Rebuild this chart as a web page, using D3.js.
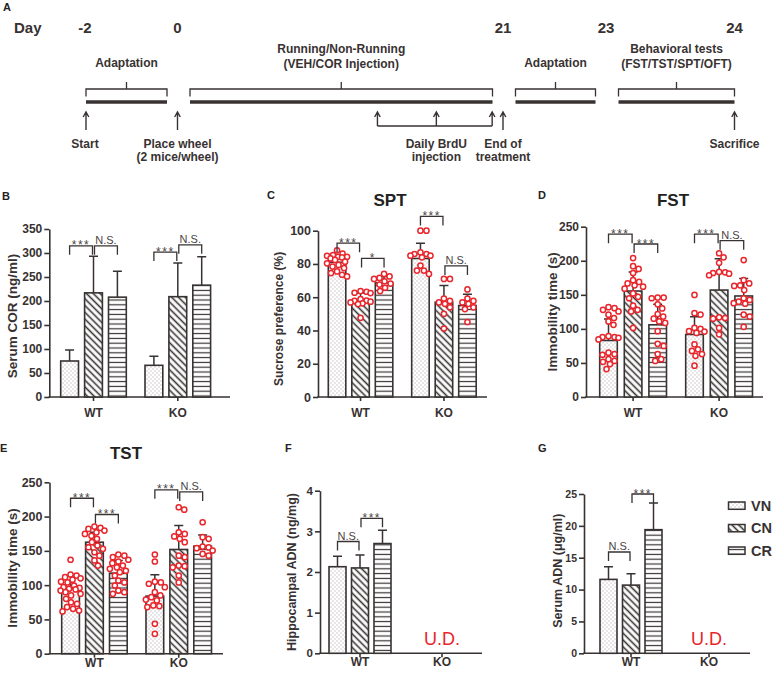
<!DOCTYPE html>
<html><head><meta charset="utf-8">
<script src="https://cdn.jsdelivr.net/npm/d3@7"></script>
<style>body{margin:0;background:#fff}svg{display:block}</style>
</head><body><svg id="chart" width="777" height="675"></svg>
<script>
// ---------------- DATA ----------------
const groups = ["WT", "KO"];
const seriesNames = ["VN", "CN", "CR"];

// Panel A timeline
const dayTicks = [-2, 0, 21, 23, 24];
const phaseStart = [-2, 0, 21, 23];
const phaseEnd = [0, 21, 23, 24];
const phaseLabels = [["Adaptation"], ["Running/Non-Running", "(VEH/COR Injection)"], ["Adaptation"], ["Behavioral tests", "(FST/TST/SPT/OFT)"]];
const eventDays = [-2, 0, 21, 24];
const eventLabels = [["Start"], ["Place wheel", "(2 mice/wheel)"], ["End of", "treatment"], ["Sacrifice"]];
const brduDays = [12.9, 16.7, 20.3];
const brduLabel = ["Daily BrdU", "injection"];

// Panel B: serum COR (ng/ml)
const corMean = [[75, 217, 208], [66, 209, 233]];
const corSD = [[23, 76, 54], [19, 70, 59]];
const corSig = [["WT","VN","CN",315,"***"],["WT","CN","CR",315,"N.S."],["KO","VN","CN",302,"***"],["KO","CN","CR",317,"N.S."]];

// Panel C: SPT sucrose preference (%)
const sptMean = [[81, 58, 68.6], [83.3, 57, 55]];
const sptSD = [[4.5, 4.6, 3.9], [9.2, 10, 6.8]];
const sptDotsWT = [
  [88.2, 86.3, 85.3, 84.9, 84.3, 84.3, 83.9, 83.3, 82.4, 81.4, 80.4, 79.4, 78.4, 77.5, 75.5, 74.5, 73.5, 72.5],
  [63.7, 63.3, 62.7, 62.5, 58.8, 58, 57.8, 57.3, 56.9, 56.3, 55.9, 47.6],
  [74, 72.5, 71.6, 71, 69.6, 68.2, 67.6, 65.7, 63.7]];
const sptDotsKO = [
  [100, 100, 87, 86, 86, 85, 85, 84, 79, 76, 74, 76],
  [71, 71, 59.2, 57.8, 56.9, 56, 53.9, 50, 41.2],
  [64.7, 59.2, 57.8, 56.9, 56, 53.9, 52.9, 45.1]];
const sptSig = [["WT","VN","CN",92.5,"***"],["WT","CN","CR",83.3,"*"],["KO","VN","CN",108.6,"***"],["KO","CN","CR",78.8,"N.S."]];

// Panel D: FST immobility time (s)
const fstMean = [[83, 155.6, 106], [91.8, 157, 148.3]];
const fstSD = [[31.5, 28, 30], [26, 46, 25.7]];
const fstDotsWT = [
  [131.9, 130.4, 128, 125.6, 120.8, 116, 111, 106, 89.4, 88, 88, 87, 84.5, 65, 63, 62, 55.6, 53, 51.7, 48.3, 41],
  [204, 192, 188, 182, 171.5, 169, 166.7, 164, 162, 159, 152, 147, 145, 134, 128, 125.6, 101.4],
  [146, 146, 145, 136, 130, 121.7, 118, 115, 111, 108.7, 96.6, 78, 75, 63, 55.6, 53]];
const fstDotsKO = [
  [149.8, 123, 121, 101.4, 100, 96.6, 96, 94, 77.3, 70, 67.6, 63, 60.4, 46],
  [211, 205, 197, 183.6, 183, 182, 181, 178.7, 117, 116, 115, 101.4, 92],
  [201, 171.5, 166.7, 164, 163, 157, 145, 142.5, 140, 137.7, 137, 120.8, 118, 103]];
const fstSig = [["WT","VN","CN",239,"***"],["WT","CN","CR",224.6,"***"],["KO","VN","CN",239,"***"],["KO","CN","CR",229.5,"N.S."]];

// Panel E: TST immobility time (s)
const tstMean = [[94.7, 162.6, 117.5], [84, 152, 156.8]];
const tstSD = [[10.5, 14.5, 18.5], [31, 35, 16.5]];
const tstDotsWT = [
  [137, 115.5, 114, 111.6, 110, 108, 105, 104, 99.5, 97, 96, 94.7, 93.7, 92, 89.8, 87.4, 85, 80, 75, 72.8, 68, 65.5, 63, 61.7],
  [185.4, 183.5, 182, 179.6, 177, 174.7, 172, 167.5, 162.6, 157.8, 155.3, 153, 148, 143, 136, 128.6],
  [144.7, 143, 140.8, 137, 134.5, 132, 128.6, 126, 123.8, 121, 118.9, 114, 106.8, 104, 99.5, 92, 89.8, 87.4]];
const tstDotsKO = [
  [144.7, 134.5, 105, 104, 102, 97, 89.8, 85, 82.5, 79, 77.7, 70.4, 69.4, 68, 43.7, 29],
  [213.6, 210, 177, 174.7, 171, 167.5, 162.6, 143, 140.8, 128.6, 127.7, 126, 114, 104],
  [191.7, 170, 167.5, 156.3, 155, 153.9, 150.5, 145.6, 143]];
const tstSig = [["WT","VN","CN",226.7,"***"],["WT","CN","CR",203,"***"],["KO","VN","CN",239,"***"],["KO","CN","CR",236,"N.S."]];

// Panel F: hippocampal ADN (ng/mg) - KO undetectable
const hipMean = [[2.13, 2.1, 2.7], null];
const hipSD = [[0.26, 0.32, 0.33], null];
const hipSig = [["WT","VN","CN",2.75,"N.S."],["WT","CN","CR",3.32,"***"]];

// Panel G: serum ADN (μg/ml) - KO undetectable
const serMean = [[11.6, 10.7, 19.4], null];
const serSD = [[2.0, 1.8, 4.2], null];
const serSig = [["WT","VN","CN",15.9,"N.S."],["WT","CN","CR",25,"***"]];

// ---------------- DRAWING ----------------
const FONT = '"Liberation Sans", Arial, Helvetica, sans-serif';
const INK = "#383232";
const RED = "#e8262c";
const SIGC = "#4a4444";
const svg = d3.select("#chart").attr("font-family", FONT);
svg.append("rect").attr("width", 777).attr("height", 675).attr("fill", "#fff");

// patterns
const defs = svg.append("defs");
const pVN = defs.append("pattern").attr("id", "pVN").attr("patternUnits", "userSpaceOnUse").attr("width", 4).attr("height", 4);
pVN.append("rect").attr("width", 4).attr("height", 4).attr("fill", "#fff");
pVN.append("rect").attr("x", 0.5).attr("y", 0.5).attr("width", 1).attr("height", 1).attr("fill", "#a09a9a");
pVN.append("rect").attr("x", 2.5).attr("y", 2.5).attr("width", 1).attr("height", 1).attr("fill", "#a09a9a");
const pCN = defs.append("pattern").attr("id", "pCN").attr("patternUnits", "userSpaceOnUse").attr("width", 10).attr("height", 4.8).attr("patternTransform", "rotate(45)");
pCN.append("rect").attr("width", 10).attr("height", 4.8).attr("fill", "#fff");
pCN.append("line").attr("x1", 0).attr("x2", 10).attr("y1", 2.4).attr("y2", 2.4).attr("stroke", INK).attr("stroke-width", 1.6);
const pCR = defs.append("pattern").attr("id", "pCR").attr("patternUnits", "userSpaceOnUse").attr("width", 10).attr("height", 4.8);
pCR.append("rect").attr("width", 10).attr("height", 4.8).attr("fill", "#fff");
pCR.append("line").attr("x1", 0).attr("x2", 10).attr("y1", 2.4).attr("y2", 2.4).attr("stroke", INK).attr("stroke-width", 1.2);

function letter(t, x, y) {
  svg.append("text").attr("x", x).attr("y", y).text(t).attr("font-size", 11).attr("font-weight", "bold").attr("fill", "#222");
}

// ---- Panel A ----
letter("A", 3, 11);
const tx = d3.scaleLinear().domain(dayTicks).range([85, 177.5, 503, 606, 734.5]);
const A = svg.append("g").attr("fill", INK);
A.append("text").attr("x", 14).attr("y", 33).text("Day").attr("font-size", 15).attr("font-weight", "bold");
A.selectAll("text.day").data(dayTicks).join("text").attr("class", "day")
  .attr("x", d => tx(d)).attr("y", 33).attr("text-anchor", "middle")
  .attr("font-size", 15).attr("font-weight", "bold").text(d => String(d));

phaseStart.forEach((s, i) => {
  const e = phaseEnd[i];
  const xs = s === dayTicks[0] ? tx(s) + 1 : tx(s) + 12.5;
  const xe = e === dayTicks[dayTicks.length - 1] ? tx(e) : tx(e) - 10.5;
  const mid = (xs + xe) / 2;
  A.append("line").attr("x1", xs).attr("x2", xe).attr("y1", 102).attr("y2", 102).attr("stroke", INK).attr("stroke-width", 3.4);
  A.append("path").attr("d", `M${xs},96.5V89H${xe}V96.5M${mid},89V82`).attr("fill", "none").attr("stroke", INK).attr("stroke-width", 1.3);
  const lines = phaseLabels[i];
  const base = lines.length === 1 ? [66.5] : [53, 68];
  lines.forEach((t, j) => A.append("text").attr("x", mid).attr("y", base[j]).attr("text-anchor", "middle")
    .attr("font-size", 12).attr("font-weight", "bold").text(t));
});

function arrow(x, yTail, yTip) {
  A.append("path").attr("d", `M${x},${yTail}V${yTip}M${x - 2.8},${yTip + 5}L${x},${yTip}L${x + 2.8},${yTip + 5}`)
    .attr("fill", "none").attr("stroke", INK).attr("stroke-width", 1.4);
}
eventDays.forEach((d, i) => {
  arrow(tx(d) + (i === 0 ? 1 : 0), 130, 112);
  eventLabels[i].forEach((t, j) => A.append("text").attr("x", tx(d)).attr("y", 148 + 13 * j)
    .attr("text-anchor", "middle").attr("font-size", 12).attr("font-weight", "bold").text(t));
});
brduDays.forEach(d => arrow(tx(d), 126, 112));
A.append("line").attr("x1", tx(brduDays[0])).attr("x2", tx(brduDays[brduDays.length - 1]))
  .attr("y1", 126).attr("y2", 126).attr("stroke", INK).attr("stroke-width", 1.4);
brduLabel.forEach((t, j) => A.append("text").attr("x", tx(brduDays[1])).attr("y", 148 + 13 * j)
  .attr("text-anchor", "middle").attr("font-size", 12).attr("font-weight", "bold").text(t));

// ---- bar panels ----
function swarm(vals, y, cx, minD, maxOff) {
  const pts = vals.map(v => ({ v, py: y(v) })).sort((a, b) => a.py - b.py);
  const placed = [];
  const cands = [0];
  for (let k = 0.5; k <= maxOff; k += 0.5) cands.push(k, -k);
  pts.forEach(p => {
    let chosen = null, bestScore = -1, bestOff = 0;
    for (const off of cands) {
      let md = Infinity;
      for (const q of placed) { const dd = Math.hypot(q.px - (cx + off), q.py - p.py); if (dd < md) md = dd; }
      if (md >= minD) { chosen = off; break; }
      if (md > bestScore) { bestScore = md; bestOff = off; }
    }
    p.px = cx + (chosen === null ? bestOff : chosen);
    placed.push(p);
  });
  return placed;
}

function barPanel(o) {
  const g = svg.append("g");
  const y = d3.scaleLinear().domain([0, o.yMax]).range([o.y0, o.y1]);
  const inner = d3.scaleBand().domain(seriesNames).range([0, 3 * o.step])
    .paddingInner(1 - o.bw / o.step).paddingOuter((1 - o.bw / o.step) / 2);
  const L = o.firstBar - (o.step - o.bw) / 2;
  const outer = d3.scaleBand().domain(groups).range([L, L + o.gstep + 3 * o.step])
    .paddingInner((o.gstep - 3 * o.step) / o.gstep).paddingOuter(0);
  const cx = (grp, s) => outer(grp) + inner(s) + inner.bandwidth() / 2;

  // y axis
  const ya = g.append("g").attr("transform", `translate(${o.ax},0)`)
    .call(d3.axisLeft(y).tickValues(d3.range(0, o.yMax + 1e-9, o.tick)).tickFormat(d3.format("~g"))
      .tickSize(5).tickSizeOuter(0).tickPadding(2));
  ya.attr("font-family", FONT);
  ya.select(".domain").attr("stroke", INK).attr("stroke-width", 1.6);
  ya.selectAll(".tick line").attr("stroke", INK).attr("stroke-width", 1.6);
  ya.selectAll(".tick text").attr("fill", INK).attr("font-size", o.tickFs).attr("font-weight", "bold");

  // x axis
  const xa = g.append("g").attr("transform", `translate(0,${o.y0})`)
    .call(d3.axisBottom(outer).tickSize(4).tickSizeOuter(0).tickPadding(o.xPad));
  xa.attr("font-family", FONT);
  xa.select(".domain").remove();
  xa.selectAll(".tick line").attr("stroke", INK).attr("stroke-width", 1.6);
  xa.selectAll(".tick text").attr("fill", INK).attr("font-size", 12).attr("font-weight", "bold");
  g.append("line").attr("x1", o.ax - 0.8).attr("x2", o.axEnd).attr("y1", o.y0).attr("y2", o.y0)
    .attr("stroke", INK).attr("stroke-width", 1.6);

  // bars, error bars, dots
  groups.forEach((grp, gi) => {
    const means = o.means[gi];
    if (!means) {
      g.append("text").attr("x", outer(grp) + outer.bandwidth() / 2).attr("y", o.y0 - 8)
        .attr("text-anchor", "middle").attr("font-size", 18).attr("fill", RED).text("U.D.");
      return;
    }
    seriesNames.forEach((s, si) => {
      const m = means[si], sd = o.sds[gi][si];
      const x = outer(grp) + inner(s);
      g.append("rect").attr("x", x).attr("y", y(m)).attr("width", inner.bandwidth()).attr("height", o.y0 - y(m))
        .attr("fill", `url(#p${s})`).attr("stroke", INK).attr("stroke-width", 1.6);
      const c = cx(grp, s);
      g.append("path").attr("d", `M${c},${y(m)}V${y(m + sd)}M${c - 4.5},${y(m + sd)}H${c + 4.5}`)
        .attr("fill", "none").attr("stroke", INK).attr("stroke-width", 1.5);
    });
  });
  if (o.dots) {
    groups.forEach((grp, gi) => {
      seriesNames.forEach((s, si) => {
        const pts = swarm(o.dots[gi][si], y, cx(grp, s), 6, o.bw / 2 + 1.5);
        g.selectAll(null).data(pts).join("circle")
          .attr("cx", d => d.px).attr("cy", d => d.py).attr("r", 2.6)
          .attr("fill", "#fff").attr("stroke", RED).attr("stroke-width", 1.5);
      });
    });
  }

  // significance brackets
  o.sig.forEach(([grp, a, b, v, lab]) => {
    const x1 = cx(grp, a) + (a === "CN" ? 1 : 0);
    const x2 = cx(grp, b) - (b === "CN" ? 1 : 0);
    const yy = y(v);
    g.append("path").attr("d", `M${x1},${yy + 9}V${yy}H${x2}V${yy + 9}`)
      .attr("fill", "none").attr("stroke", INK).attr("stroke-width", 1.3);
    const isStar = lab.indexOf("*") >= 0;
    g.append("text").attr("x", (x1 + x2) / 2).attr("y", isStar ? yy + 3.5 : yy - 2)
      .attr("text-anchor", "middle").attr("font-size", isStar ? 12 : 11)
      .attr("letter-spacing", isStar ? 1.5 : 0).attr("fill", SIGC).text(lab);
  });

  // y label
  const yc = (o.y0 + o.y1) / 2 + (o.yLabDy || 0);
  g.append("text").attr("transform", `translate(${o.yLabX},${yc}) rotate(-90)`)
    .attr("text-anchor", "middle").attr("dy", "0.35em").attr("font-size", o.yLabFs).attr("font-weight", "bold")
    .attr("fill", INK).text(o.yLabel);

  if (o.title) {
    g.append("text").attr("x", o.title[1]).attr("y", o.title[2]).attr("text-anchor", "middle")
      .attr("font-size", 17).attr("font-weight", "bold").attr("fill", "#222").text(o.title[0]);
  }
  letter(o.letter[0], o.letter[1], o.letter[2]);
}

barPanel({ ax: 49.3, axEnd: 230, y0: 397, y1: 229, yMax: 350, tick: 50, firstBar: 60.7, step: 23.9, bw: 17.8, gstep: 84.3,
  means: corMean, sds: corSD, dots: null, sig: corSig, yLabel: "Serum COR (ng/ml)", yLabX: 12, yLabFs: 13.5, yLabDy: 3,
  tickFs: 12, xPad: 7.5, letter: ["B", 2, 199.5] });
barPanel({ ax: 318, axEnd: 487, y0: 397, y1: 230.7, yMax: 100, tick: 20, firstBar: 328.3, step: 23.5, bw: 17.5, gstep: 83.4,
  means: sptMean, sds: sptSD, dots: [sptDotsWT, sptDotsKO], sig: sptSig, yLabel: "Sucrose preference (%)", yLabX: 279, yLabFs: 12, yLabDy: 5,
  tickFs: 12.5, xPad: 7.5, letter: ["C", 267, 199], title: ["SPT", 390, 206] });
barPanel({ ax: 586, axEnd: 763, y0: 397, y1: 226.7, yMax: 250, tick: 50, firstBar: 599.7, step: 24.6, bw: 17.6, gstep: 86,
  means: fstMean, sds: fstSD, dots: [fstDotsWT, fstDotsKO], sig: fstSig, yLabel: "Immobility time (s)", yLabX: 552, yLabFs: 13.5,
  tickFs: 12, xPad: 7.5, letter: ["D", 538, 199], title: ["FST", 673, 206] });
barPanel({ ax: 49.5, axEnd: 223, y0: 653.7, y1: 482.3, yMax: 250, tick: 50, firstBar: 61.7, step: 23.9, bw: 17.7, gstep: 84.3,
  means: tstMean, sds: tstSD, dots: [tstDotsWT, tstDotsKO], sig: tstSig, yLabel: "Immobility time (s)", yLabX: 12, yLabFs: 13.5,
  tickFs: 12.5, xPad: 0.5, letter: ["E", 0, 452], title: ["TST", 126, 459] });
barPanel({ ax: 320, axEnd: 482, y0: 653.3, y1: 490.7, yMax: 4, tick: 1, firstBar: 329, step: 22.5, bw: 17, gstep: 82,
  means: hipMean, sds: hipSD, dots: null, sig: hipSig, yLabel: "Hippocampal ADN (ng/mg)", yLabX: 292, yLabFs: 12.5,
  tickFs: 11.5, xPad: 0.5, letter: ["F", 285, 452] });
barPanel({ ax: 584, axEnd: 750, y0: 653.3, y1: 494, yMax: 25, tick: 5, firstBar: 600, step: 22.5, bw: 17, gstep: 78,
  means: serMean, sds: serSD, dots: null, sig: serSig, yLabel: "Serum ADN (μg/ml)", yLabX: 558, yLabFs: 12.5, yLabDy: -3,
  tickFs: 10.5, xPad: 0.5, letter: ["G", 538, 452] });

// legend
const leg = svg.append("g");
seriesNames.forEach((s, i) => {
  const yy = 502 + i * 22.5;
  leg.append("rect").attr("x", 728.5).attr("y", yy).attr("width", 16.5).attr("height", 7.3)
    .attr("fill", `url(#p${s})`).attr("stroke", INK).attr("stroke-width", 1.5);
  leg.append("text").attr("x", 751).attr("y", yy + 3.65).attr("dy", "0.36em").attr("font-size", 14.5)
    .attr("font-weight", "bold").attr("fill", INK).text(s);
});
</script></body></html>
